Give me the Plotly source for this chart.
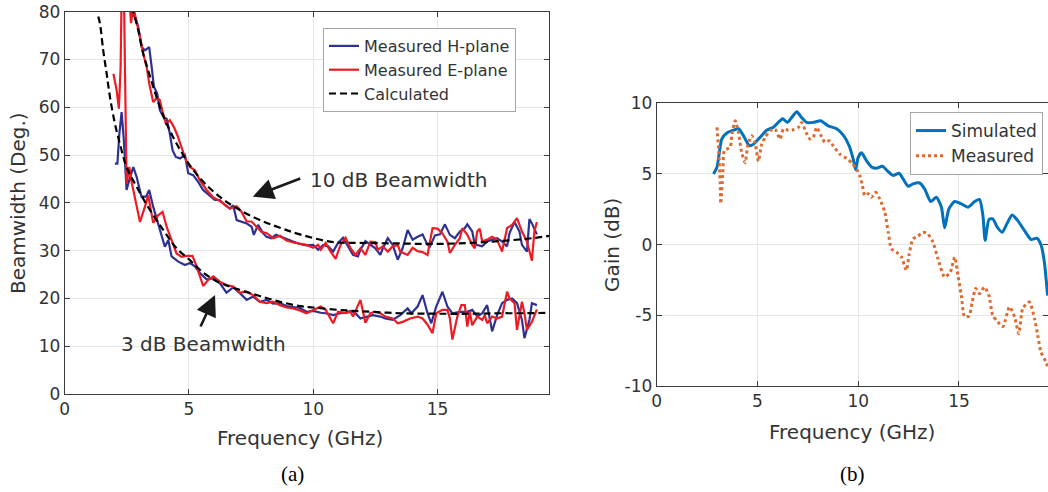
import plotly.graph_objects as go

W, H = 1048, 492

# ---------------- Panel (a): beamwidth ----------------
calc_low_f = [1.35, 1.42, 1.55, 1.69, 1.82, 2.02, 2.22, 2.49, 2.89, 3.43, 3.97, 4.5, 5.04, 5.57, 6.24, 7.05, 7.85, 8.66, 9.46, 10.0, 11.0, 12.0, 13.5, 15.0, 16.5, 17.5, 18.5, 19.5]
calc_low = [79.0, 77.5, 71.9, 67.0, 62.2, 56.6, 52.4, 47.5, 43.4, 38.5, 34.3, 30.5, 28.0, 25.4, 23.3, 21.8, 20.5, 19.3, 18.4, 18.1, 17.6, 17.3, 16.9, 16.8, 16.8, 16.9, 16.9, 17.0]
calc_up_f = [2.7, 2.76, 2.96, 3.16, 3.36, 3.56, 3.83, 4.1, 4.43, 4.77, 5.17, 5.71, 6.38, 7.05, 7.85, 8.66, 9.46, 10.8, 12.1, 13.5, 14.8, 16.2, 17.5, 18.8, 19.5]
calc_up = [81, 80, 76.1, 71.2, 67.7, 64.3, 60.1, 56.6, 53.1, 50, 46.9, 43.7, 40.7, 38.5, 36.4, 34.8, 33.4, 31.8, 31.6, 31.5, 31.4, 31.6, 32, 32.6, 33.1]

h_low_f = [2.02, 2.12, 2.2, 2.29, 2.38, 2.49, 2.6, 2.76, 2.89, 3.09, 3.27, 3.4, 3.56, 3.72, 3.9, 4.03, 4.17, 4.3, 4.57, 4.84, 5.04, 5.24, 5.44, 5.71, 5.98, 6.24, 6.51, 6.78, 7.05, 7.32, 7.58, 7.85, 8.12, 8.39, 8.66, 8.93, 9.19, 9.46, 9.73, 10.0, 10.3, 10.5, 10.8, 11.1, 11.3, 11.5, 11.7, 11.9, 12.1, 12.4, 12.7, 12.9, 13.2, 13.5, 13.8, 13.95, 14.2, 14.4, 14.6, 14.75, 14.95, 15.2, 15.4, 15.6, 15.9, 16.2, 16.4, 16.6, 16.8, 17.0, 17.2, 17.4, 17.6, 17.8, 18.0, 18.2, 18.4, 18.5, 18.7, 18.8, 19.0]
h_low = [48.2, 48.2, 54.5, 59, 53.1, 42.7, 44.8, 47.5, 45.5, 41.3, 41.3, 42.7, 39.2, 36.4, 33.6, 30.8, 32.2, 28.8, 27.7, 27, 27.4, 26.7, 25.3, 24, 24.2, 23.2, 21.2, 22.3, 21.1, 19.7, 20.4, 19.3, 19.7, 18.9, 19.0, 18.4, 18.2, 18.0, 17.2, 17.4, 17.0, 16.9, 16.5, 16.9, 17.0, 17.4, 16.9, 15.8, 16.1, 16.5, 16.2, 15.8, 15.5, 16.5, 17.9, 16.9, 18.3, 20.7, 16.9, 14.8, 18.3, 21.4, 18.3, 16.9, 17.2, 17.2, 17.6, 16.2, 16.9, 18.6, 13.1, 16.5, 19.0, 19.7, 20.0, 19.0, 15.5, 11.7, 15.5, 19.0, 18.6]
h_up_f = [2.5, 2.6, 2.69, 2.83, 2.96, 3.09, 3.23, 3.4, 3.5, 3.59, 3.72, 3.83, 3.97, 4.1, 4.23, 4.34, 4.47, 4.64, 4.84, 4.97, 5.17, 5.37, 5.57, 5.84, 6.04, 6.24, 6.45, 6.65, 6.78, 6.92, 7.12, 7.32, 7.52, 7.61, 7.78, 7.99, 8.12, 8.32, 8.5, 8.72, 8.93, 9.19, 9.46, 9.73, 10.0, 10.2, 10.4, 10.6, 10.8, 11.0, 11.2, 11.4, 11.6, 11.8, 11.9, 12.1, 12.3, 12.5, 12.7, 12.8, 13.0, 13.2, 13.4, 13.6, 13.8, 14.0, 14.2, 14.4, 14.6, 14.7, 14.9, 15.1, 15.3, 15.5, 15.7, 15.9, 16.1, 16.2, 16.4, 16.5, 16.8, 17.0, 17.2, 17.4, 17.6, 17.8, 17.9, 18.1, 18.3, 18.4, 18.6, 18.7, 18.8, 19.0]
h_up = [86, 81, 79.6, 78.9, 76.8, 72.6, 71.9, 72.6, 68.4, 64.3, 62.9, 59.4, 58.0, 57.6, 54.5, 51, 49.6, 49.3, 50, 46.2, 45.8, 44.4, 42.7, 41.6, 40.6, 40.6, 39.5, 38.8, 39.5, 36.4, 36.1, 35.7, 35, 33.3, 35.4, 33.6, 32.9, 32.6, 33.3, 32.8, 32.4, 31.9, 31.4, 31.1, 31.2, 30.2, 31.2, 30.9, 29.8, 31.6, 32.7, 30.9, 29.1, 28.8, 30.2, 32.0, 31.3, 30.5, 29.1, 30.5, 32.6, 31.2, 28.1, 30.5, 34.3, 32.3, 32.9, 33.4, 31.2, 30.9, 33.2, 33.4, 35.5, 33.3, 32.6, 34.0, 34.7, 35.5, 34.0, 31.3, 30.9, 31.9, 32.3, 32.6, 31.9, 30.9, 33.7, 36.0, 34.0, 31.2, 29.8, 36.6, 35.7, 33.4]

e_low_f = [1.96, 2.09, 2.18, 2.25, 2.31, 2.38, 2.49, 2.6, 2.69, 2.83, 3.03, 3.23, 3.36, 3.56, 3.76, 3.94, 4.1, 4.3, 4.5, 4.7, 4.9, 5.14, 5.31, 5.57, 5.78, 5.98, 6.24, 6.51, 6.78, 7.05, 7.32, 7.58, 7.85, 8.12, 8.39, 8.66, 8.93, 9.19, 9.46, 9.73, 10.0, 10.3, 10.5, 10.8, 11.0, 11.3, 11.5, 11.6, 11.9, 12.1, 12.3, 12.5, 12.7, 12.9, 13.2, 13.4, 13.6, 13.9, 14.2, 14.4, 14.6, 14.8, 14.95, 15.2, 15.4, 15.5, 15.6, 15.8, 15.96, 16.1, 16.2, 16.3, 16.4, 16.6, 16.8, 16.9, 17.0, 17.2, 17.4, 17.6, 17.8, 17.9, 18.1, 18.2, 18.4, 18.5, 18.6, 18.8, 19.0]
e_low = [67, 63.6, 59.7, 68.4, 92, 85, 44, 47.5, 44.4, 40.6, 36, 39.2, 41.6, 35.8, 37.4, 38.1, 35, 32.2, 29.4, 28.7, 28.9, 28.9, 26.7, 22.6, 23.9, 24.6, 23.5, 22.8, 22.5, 21.2, 21.4, 20.7, 19.3, 19.0, 19.3, 18.6, 18.1, 17.9, 17.5, 16.9, 17.6, 18.3, 17.6, 14.8, 17.2, 16.9, 17.2, 16.2, 19.7, 14.9, 16.9, 17.2, 16.9, 16.2, 15.8, 14.8, 15.1, 15.8, 16.2, 15.8, 14.5, 12.7, 16.9, 17.6, 17.6, 15.8, 11.4, 16.2, 18.6, 18.6, 14.1, 17.2, 14.4, 16.2, 15.5, 16.5, 14.8, 16.2, 15.8, 16.2, 21.4, 20.0, 19.0, 13.4, 19.3, 16.9, 13.4, 15.1, 17.7]
e_up_f = [2.55, 2.62, 2.67, 2.76, 2.89, 3.03, 3.16, 3.3, 3.4, 3.56, 3.72, 3.83, 3.94, 4.07, 4.23, 4.39, 4.53, 4.7, 4.88, 5.04, 5.24, 5.44, 5.71, 5.98, 6.18, 6.38, 6.65, 6.92, 7.12, 7.32, 7.52, 7.72, 7.92, 8.12, 8.39, 8.66, 8.93, 9.19, 9.46, 9.73, 10.0, 10.2, 10.3, 10.5, 10.7, 10.9, 11.1, 11.3, 11.5, 11.7, 11.9, 12.1, 12.3, 12.5, 12.6, 12.8, 13.0, 13.2, 13.4, 13.5, 13.8, 14.0, 14.2, 14.4, 14.6, 14.8, 15.0, 15.2, 15.4, 15.5, 15.7, 15.9, 16.0, 16.2, 16.4, 16.5, 16.6, 16.7, 16.8, 17.0, 17.2, 17.4, 17.6, 17.8, 18.0, 18.2, 18.4, 18.6, 18.8, 18.9, 19.0]
e_up = [86, 80, 77.6, 81, 78.2, 74.7, 71.2, 68.4, 65, 61.1, 62, 61.5, 59, 56.6, 57.3, 55.9, 54.2, 51.4, 48.9, 47.5, 46.8, 44.7, 42.7, 41.1, 40.6, 39.9, 38.8, 39.3, 38.1, 36.1, 36.1, 35, 33.9, 33.7, 32.6, 33.1, 32.1, 31.7, 31.4, 31.2, 30.6, 31.2, 30.2, 31.6, 29.8, 28.3, 31.2, 32.7, 30.5, 29.1, 30.5, 29.1, 31.9, 31.8, 30.2, 30.9, 29.8, 30.9, 31.2, 29.8, 29.1, 30.6, 29.9, 29.7, 29.1, 34.7, 34.6, 33.6, 31.9, 29.5, 31.2, 32.6, 34.7, 33.3, 31.2, 30.5, 34.0, 34.6, 31.9, 32.3, 32.9, 32.3, 29.8, 34.7, 35.4, 36.8, 34.0, 31.9, 27.9, 34.0, 36.0]

# ---------------- Panel (b): gain ----------------
sim_f = [2.82, 2.99, 3.23, 3.48, 3.81, 4.06, 4.31, 4.6, 4.8, 5.13, 5.46, 5.79, 6.25, 6.49, 6.7, 6.95, 7.19, 7.44, 7.77, 8.14, 8.51, 8.93, 9.26, 9.55, 9.75, 9.87, 10.0, 10.17, 10.41, 10.66, 10.9, 11.2, 11.49, 11.73, 12.03, 12.23, 12.48, 12.72, 13.05, 13.3, 13.6, 13.88, 14.13, 14.29, 14.5, 14.79, 15.12, 15.45, 15.78, 16.02, 16.19, 16.3, 16.49, 16.68, 16.9, 17.15, 17.38, 17.64, 17.92, 18.25, 18.58, 18.86, 19.07, 19.24, 19.4]
sim_gain = [5.0, 5.47, 7.47, 7.9, 8.1, 8.2, 7.7, 7.0, 7.1, 7.6, 8.1, 8.3, 8.9, 8.65, 9.0, 9.4, 9.0, 8.65, 8.65, 8.76, 8.4, 8.2, 7.75, 7.0, 6.06, 5.3, 6.18, 6.5, 5.94, 5.5, 5.4, 5.54, 5.16, 4.9, 5.05, 4.65, 4.13, 4.3, 4.36, 3.94, 3.05, 3.35, 2.65, 1.2, 2.53, 3.05, 2.88, 2.65, 3.05, 3.2, 2.06, 0.3, 1.78, 1.82, 1.24, 0.88, 1.47, 2.1, 1.7, 1.0, 0.36, 0.46, 0.0, -1.24, -3.6]
meas_f = [2.99, 3.07, 3.15, 3.18, 3.28, 3.35, 3.48, 3.65, 3.73, 3.9, 4.06, 4.22, 4.39, 4.52, 4.72, 4.88, 5.05, 5.21, 5.38, 5.63, 5.87, 6.12, 6.29, 6.53, 6.78, 7.03, 7.19, 7.41, 7.61, 7.77, 7.94, 8.14, 8.35, 8.56, 8.76, 9.09, 9.42, 9.67, 9.92, 10.08, 10.21, 10.33, 10.5, 10.66, 10.87, 11.07, 11.32, 11.49, 11.65, 11.9, 12.15, 12.39, 12.52, 12.72, 12.97, 13.22, 13.46, 13.71, 13.96, 14.29, 14.57, 14.79, 14.95, 15.12, 15.28, 15.5, 15.66, 15.83, 16.02, 16.27, 16.49, 16.68, 16.93, 17.18, 17.51, 17.76, 17.97, 18.17, 18.5, 18.75, 18.91, 19.07, 19.32, 19.42]
meas_gain = [8.3, 6.76, 4.4, 2.9, 5.1, 6.65, 6.76, 6.9, 7.8, 8.76, 7.9, 6.5, 5.8, 7.0, 7.7, 7.2, 5.9, 7.1, 7.6, 8.06, 8.18, 7.47, 8.18, 8.1, 8.13, 8.3, 8.65, 7.94, 7.47, 7.6, 8.3, 7.75, 7.24, 7.35, 7.0, 6.4, 6.1, 5.8, 5.35, 4.88, 4.18, 3.47, 3.6, 3.35, 3.7, 3.24, 2.3, 0.88, -0.3, -0.53, -0.88, -1.82, -0.76, 0.41, 0.6, 0.88, 0.76, 0.18, -1.0, -2.3, -1.94, -0.88, -2.18, -3.6, -5.1, -5.05, -4.06, -3.1, -3.47, -3.0, -3.6, -5.0, -5.47, -5.8, -4.4, -5.1, -6.3, -4.5, -4.06, -5.24, -6.4, -7.6, -8.3, -8.7]

x_ticks = [0, 5, 10, 15]
bw_ticks = [0, 10, 20, 30, 40, 50, 60, 70, 80]
gain_ticks = [-10, -5, 0, 5, 10]
gain_ticktext = ["-10", "-5", "0", "5", "10"]

BLUE = "#2E3192"
RED = "#ED1C24"
SIMC = "#0072BD"
MEASC = "#DD6A30"
AX = "#3a3a3a"
TXT = "#333333"
FONT = "DejaVu Sans"


def join(a_f, a_v, b_f, b_v):
    return list(a_f) + [None] + list(b_f), list(a_v) + [None] + list(b_v)


fig = go.Figure()

hx, hy = join(h_low_f, h_low, h_up_f, h_up)
ex, ey = join(e_low_f, e_low, e_up_f, e_up)
cx, cy = join(calc_low_f, calc_low, calc_up_f, calc_up)

fig.add_trace(go.Scatter(x=hx, y=hy, mode="lines", name="Measured H-plane",
                         line=dict(color=BLUE, width=2.2), xaxis="x", yaxis="y", legend="legend"))
fig.add_trace(go.Scatter(x=ex, y=ey, mode="lines", name="Measured E-plane",
                         line=dict(color=RED, width=2.2), xaxis="x", yaxis="y", legend="legend"))
fig.add_trace(go.Scatter(x=cx, y=cy, mode="lines", name="Calculated", line_shape="spline",
                         line=dict(color="black", width=2.2, dash="7px,4px"), xaxis="x", yaxis="y", legend="legend"))

fig.add_trace(go.Scatter(x=sim_f, y=sim_gain, mode="lines", name="Simulated", line_shape="spline",
                         line=dict(color=SIMC, width=3, smoothing=0.6), xaxis="x2", yaxis="y2", legend="legend2"))
fig.add_trace(go.Scatter(x=meas_f, y=meas_gain, mode="lines", name="Measured", line_shape="spline",
                         line=dict(color=MEASC, width=3, dash="dot", smoothing=0.6), xaxis="x2", yaxis="y2", legend="legend2"))


def px_x(p):
    return p / W


def px_y(p):
    return 1 - p / H


axis_common = dict(showline=True, linecolor=AX, linewidth=1, mirror="ticks", ticks="inside",
                   ticklen=5, tickcolor=AX, showgrid=True, gridcolor="#e6e6e6", gridwidth=1,
                   zeroline=False, automargin=False, tickfont=dict(family=FONT, size=17, color=TXT))

fig.update_layout(
    width=W, height=H, paper_bgcolor="white", plot_bgcolor="white",
    margin=dict(l=0, r=0, t=0, b=0, autoexpand=False),
    xaxis=dict(axis_common, domain=[px_x(64.7), px_x(549.3)], range=[0, 19.5], tickvals=x_ticks, anchor="y"),
    yaxis=dict(axis_common, domain=[px_y(394), px_y(11.7)], range=[0, 80], tickvals=bw_ticks, anchor="x"),
    xaxis2=dict(axis_common, domain=[px_x(656.7), 1.0], range=[0, 19.42], tickvals=x_ticks, anchor="y2"),
    yaxis2=dict(axis_common, domain=[px_y(386), px_y(103.3)], range=[-10, 10], tickvals=gain_ticks,
                ticktext=gain_ticktext, anchor="x2"),
    legend=dict(x=px_x(323), y=px_y(28), xanchor="left", yanchor="top", bgcolor="white",
                bordercolor="#a6a6a6", borderwidth=1, font=dict(family=FONT, size=16, color=TXT),
                itemwidth=30, tracegroupgap=0),
    legend2=dict(x=px_x(1043), y=px_y(112), xanchor="right", yanchor="top", bgcolor="white",
                 bordercolor="#a6a6a6", borderwidth=1, font=dict(family=FONT, size=17, color=TXT),
                 itemwidth=30, tracegroupgap=0),
    showlegend=True,
)

ann_font = dict(family=FONT, size=20, color=TXT)
annotations = [
    dict(text="Beamwidth (Deg.)", x=px_x(18), y=px_y(203), xref="paper", yref="paper", textangle=-90,
         showarrow=False, font=ann_font, xanchor="center", yanchor="middle"),
    dict(text="Frequency (GHz)", x=px_x(300), y=px_y(438), xref="paper", yref="paper",
         showarrow=False, font=ann_font, xanchor="center", yanchor="middle"),
    dict(text="Gain (dB)", x=px_x(612), y=px_y(245), xref="paper", yref="paper", textangle=-90,
         showarrow=False, font=ann_font, xanchor="center", yanchor="middle"),
    dict(text="Frequency (GHz)", x=px_x(852), y=px_y(432), xref="paper", yref="paper",
         showarrow=False, font=ann_font, xanchor="center", yanchor="middle"),
    dict(text="(a)", x=px_x(292), y=px_y(474), xref="paper", yref="paper", showarrow=False,
         font=dict(family="Liberation Serif", size=21, color="black"), xanchor="center", yanchor="middle"),
    dict(text="(b)", x=px_x(852), y=px_y(474), xref="paper", yref="paper", showarrow=False,
         font=dict(family="Liberation Serif", size=21, color="black"), xanchor="center", yanchor="middle"),
    dict(text="10 dB Beamwidth", x=9.8, y=44.8, xref="x", yref="y", showarrow=False,
         font=ann_font, xanchor="left", yanchor="middle"),
    dict(text="3 dB Beamwidth", x=2.2, y=10.5, xref="x", yref="y", showarrow=False,
         font=ann_font, xanchor="left", yanchor="middle"),
    dict(text="", x=7.57, y=41.3, ax=9.54, ay=45.2, xref="x", yref="y", axref="x", ayref="y",
         showarrow=True, arrowhead=2, arrowsize=1.6, arrowwidth=2.6, arrowcolor="#1a1a1a"),
    dict(text="", x=6.05, y=20.7, ax=5.44, ay=13.8, xref="x", yref="y", axref="x", ayref="y",
         showarrow=True, arrowhead=2, arrowsize=1.6, arrowwidth=2.6, arrowcolor="#1a1a1a"),
]
fig.update_layout(annotations=annotations)

fig.write_html("out.html", config={"displayModeBar": False},
               post_script="document.body.style.margin='0';document.body.style.overflow='hidden';")
